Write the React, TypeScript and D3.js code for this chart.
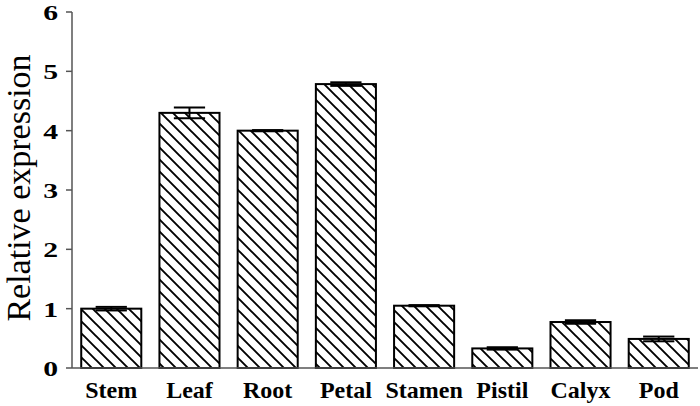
import React from "react";
import * as d3 from "d3";

const categories = ["Stem", "Leaf", "Root", "Petal", "Stamen", "Pistil", "Calyx", "Pod"];
const values = [1.0, 4.3, 4.0, 4.785, 1.05, 0.33, 0.775, 0.49];
const errors = [0.03, 0.09, 0.01, 0.03, 0.01, 0.02, 0.03, 0.04];
const yTicks = [0, 1, 2, 3, 4, 5, 6];
const yLabel = "Relative expression";

const W = 700;
const H = 406;
const left = 72;
const right = 698;
const top = 12;
const bottom = 368;
const SERIF = "'Liberation Serif', 'Times New Roman', Times, serif";

export default function App() {
  const x = d3
    .scaleBand<string>()
    .domain(categories)
    .range([left, right])
    .paddingInner(0.232)
    .paddingOuter(0.118);
  const y = d3.scaleLinear().domain([0, 6]).range([bottom, top]);
  const bw = x.bandwidth();
  const capW = bw * 0.52;

  return (
    <div style={{ position: "absolute", left: 0, top: 0 }}>
      <svg width={W} height={H} style={{ display: "block", background: "#fff" }}>
        <defs>
          <pattern
            id="hatch"
            patternUnits="userSpaceOnUse"
            width={12}
            height={12}
          >
            <rect width={12} height={12} fill="#fff" />
            <path d="M-3,-3 L15,15 M-3,9 L3,15 M9,-3 L15,3" stroke="#000" strokeWidth={1.9} />
          </pattern>
        </defs>

        {/* bars */}
        {categories.map((c, i) => (
          <rect
            key={c}
            x={x(c)!}
            y={y(values[i])}
            width={bw}
            height={bottom - y(values[i])}
            fill="url(#hatch)"
            stroke="#000"
            strokeWidth={2}
          />
        ))}

        {/* error bars */}
        {categories.map((c, i) => {
          const cx = x(c)! + bw / 2;
          const yt = y(values[i] + errors[i]);
          const yb = y(values[i] - errors[i]);
          return (
            <g key={"e" + c} stroke="#000" strokeWidth={2}>
              <line x1={cx} x2={cx} y1={yt} y2={yb} />
              <line x1={cx - capW / 2} x2={cx + capW / 2} y1={yt} y2={yt} />
              <line x1={cx - capW / 2} x2={cx + capW / 2} y1={yb} y2={yb} />
            </g>
          );
        })}

        {/* axes */}
        <line x1={left} x2={left} y1={top} y2={bottom} stroke="#555" strokeWidth={1.5} />
        <line x1={left} x2={right} y1={bottom} y2={bottom} stroke="#555" strokeWidth={1.5} />
        {yTicks.map((t) => (
          <g key={"t" + t}>
            <line x1={left - 6} x2={left} y1={y(t)} y2={y(t)} stroke="#555" strokeWidth={1.5} />
            <text
              transform={`translate(58,${y(t)}) scale(1.35,1)`}
              dy="0.36em"
              textAnchor="end"
              style={{ fontFamily: SERIF, fontWeight: "bold", fontSize: 22 }}
              fill="#000"
            >
              {t}
            </text>
          </g>
        ))}

        {categories.map((c) => (
          <text
            key={"l" + c}
            x={x(c)! + bw / 2}
            y={398}
            textAnchor="middle"
            style={{ fontFamily: SERIF, fontWeight: "bold", fontSize: 24 }}
            fill="#000"
          >
            {c}
          </text>
        ))}

        <text
          transform={`translate(30,188) rotate(-90)`}
          textAnchor="middle"
          style={{ fontFamily: SERIF, fontSize: 34 }}
          fill="#000"
        >
          {yLabel}
        </text>
      </svg>
    </div>
  );
}
